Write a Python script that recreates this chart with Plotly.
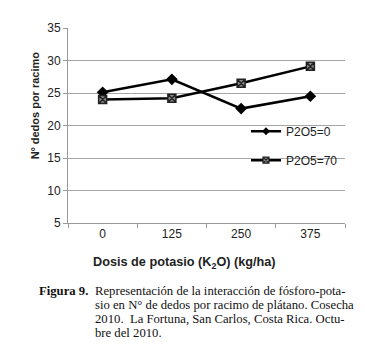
import plotly.graph_objects as go

categories = ["0", "125", "250", "375"]
p0_values = [25.1, 27.1, 22.6, 24.5]
p70_values = [24.0, 24.2, 26.5, 29.1]
y_ticks = [5, 10, 15, 20, 25, 30, 35]

W, H = 365, 345
L, R, T, B = 60, 28, 19.5, 130
pw, ph = W - L - R, H - T - B

def px(x):
    return (x - L) / pw

def py(y):
    return (H - B - y) / ph

fig = go.Figure()
fig.add_trace(go.Scatter(
    x=categories, y=p0_values, name="P2O5=0", mode="lines+markers",
    line=dict(color="black", width=2.5),
    marker=dict(symbol="diamond", size=9, color="black"),
    showlegend=False,
))
fig.add_trace(go.Scatter(
    x=categories, y=p70_values, name="P2O5=70", mode="lines+markers",
    line=dict(color="black", width=2.5),
    marker=dict(symbol="square-x", size=8, color="#8a8a8a",
                line=dict(color="#222", width=1.5)),
    showlegend=False,
))
# legend-only entries with small symbols
fig.add_trace(go.Scatter(
    x=[None], y=[None], name="P2O5=0", mode="lines+markers",
    line=dict(color="black", width=2.5),
    marker=dict(symbol="diamond", size=6, color="black"),
    legend="legend",
))
fig.add_trace(go.Scatter(
    x=[None], y=[None], name="P2O5=70", mode="lines+markers",
    line=dict(color="black", width=2.5),
    marker=dict(symbol="square-x", size=6, color="#8a8a8a",
                line=dict(color="#222", width=1.2)),
    legend="legend2",
))

font = dict(family="Liberation Sans, Arial, sans-serif", size=12, color="#222")

fig.update_layout(
    width=W, height=H,
    margin=dict(l=L, r=R, t=T, b=B, pad=0),
    paper_bgcolor="white", plot_bgcolor="white",
    font=font,
    showlegend=True,
    legend=dict(x=px(238), y=py(123), xanchor="left", yanchor="middle",
                bgcolor="rgba(0,0,0,0)", font=dict(size=12, color="#222"),
                itemwidth=30),
    legend2=dict(x=px(238), y=py(152), xanchor="left", yanchor="middle",
                 bgcolor="rgba(0,0,0,0)", font=dict(size=12, color="#222"),
                 itemwidth=30),
    xaxis=dict(
        type="category", categoryorder="array", categoryarray=categories,
        range=[-0.5, 3.5], showgrid=False, showline=True, linecolor="#999",
        linewidth=1, ticks="outside", tickson="boundaries", ticklen=4,
        tickcolor="#999", tickfont=dict(size=12, color="#222"),
        zeroline=False,
    ),
    yaxis=dict(
        range=[5, 35], tickvals=y_ticks, showgrid=True, gridcolor="#a6a6a6",
        gridwidth=1.3, showline=True, linecolor="#999", linewidth=1,
        ticks="outside", ticklen=4, tickcolor="#999",
        tickfont=dict(size=12, color="#222"), zeroline=False,
    ),
)

ann = []
ann.append(dict(text="<b>Nº dedos por racimo</b>", x=px(27), y=py(97),
                xref="paper", yref="paper", textangle=-90, showarrow=False,
                font=dict(size=11, color="#222"), xanchor="center", yanchor="middle"))
ann.append(dict(text="<b>Dosis de potasio (K<sub>2</sub>O) (kg/ha)</b>", x=px(176), y=py(255),
                xref="paper", yref="paper", showarrow=False,
                font=dict(size=12.7, color="#222"), xanchor="center", yanchor="middle"))

serif = "Liberation Serif, Times New Roman, serif"
ann.append(dict(text="<b>Figura 9.</b>", x=px(29), y=py(283),
                xref="paper", yref="paper", showarrow=False,
                font=dict(family=serif, size=12.7, color="#111"),
                xanchor="left", yanchor="middle"))
caption = [
    "Representación de la interacción de fósforo-pota-",
    "sio en N° de dedos por racimo de plátano. Cosecha",
    "2010.  La Fortuna, San Carlos, Costa Rica. Octu-",
    "bre del 2010.",
]
for i, line in enumerate(caption):
    ann.append(dict(text=line, x=px(85), y=py(283 + i * 14.2),
                    xref="paper", yref="paper", showarrow=False,
                    font=dict(family=serif, size=12.7, color="#111"),
                    xanchor="left", yanchor="middle"))
fig.update_layout(annotations=ann)

fig.write_html("out.html")
